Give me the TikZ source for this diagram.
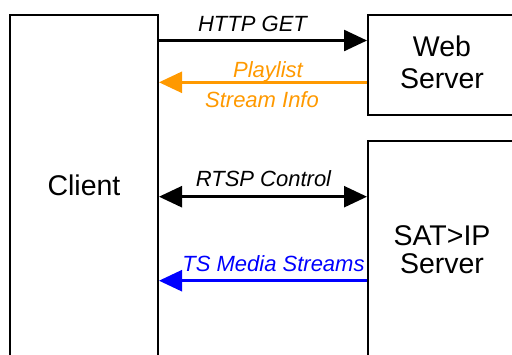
\documentclass[tikz,border=0pt]{standalone}
\usepackage{fontspec}
\setmainfont{Liberation Sans}
\usetikzlibrary{arrows.meta}
\definecolor{playorange}{HTML}{FF9900}

\begin{document}
\begin{tikzpicture}[%
      x=1pt, y=-1pt,
      box/.style={draw, line width=2pt, inner sep=0pt},
      msg/.style={line width=2.5pt, -{Triangle[length=23pt, width=21pt]}},
      lbl/.style={anchor=base, font=\fontsize{22}{24}\selectfont\itshape},
      ]
      \useasboundingbox (0,0) rectangle (512,354);
      \clip (0,0) rectangle (512,354);

      \node [box, minimum width=148pt, minimum height=345pt] (client) at (84,187.5) {};
      \node [box, minimum width=152pt, minimum height=100pt] (web) at (444,65) {};
      \node [box, minimum width=152pt, minimum height=219pt] (sat) at (444,250.5) {};

      \node [font=\fontsize{28.5}{30}\selectfont, anchor=base] (clienttext) at (84,195) {Client};
      \node [font=\fontsize{28.5}{32}\selectfont, align=center, anchor=base] (webtext) at (442,88) {Web\\Server};
      \node [font=\fontsize{28.5}{28}\selectfont, align=center, anchor=base] (sattext) at (442,273) {SAT>IP\\Server};

      \coordinate (get) at (0,40.5);
      \coordinate (play) at (0,82.3);
      \coordinate (rtsp) at (0,196.7);
      \coordinate (ts) at (0,280.7);

      \draw [msg, color=black] (client.east |- get) -- (web.west |- get);
      \draw [msg, color=playorange] (web.west |- play) -- (client.east |- play);
      \draw [msg, color=black, {Triangle[length=23pt, width=21pt]}-{Triangle[length=23pt, width=21pt]}] (client.east |- rtsp) -- (sat.west |- rtsp);
      \draw [msg, color=blue] (sat.west |- ts) -- (client.east |- ts);

      \node [lbl] (getlbl) at (252.5,31) {HTTP GET};
      \node [lbl, color=playorange] (playlbl) at (268,77) {Playlist};
      \node [lbl, color=playorange] (infolbl) at (262,107) {Stream Info};
      \node [lbl] (rtsplbl) at (263.5,186) {RTSP Control};
      \node [lbl, color=blue] (tslbl) at (273.5,271) {TS Media Streams};
      \end{tikzpicture}
\end{document}
